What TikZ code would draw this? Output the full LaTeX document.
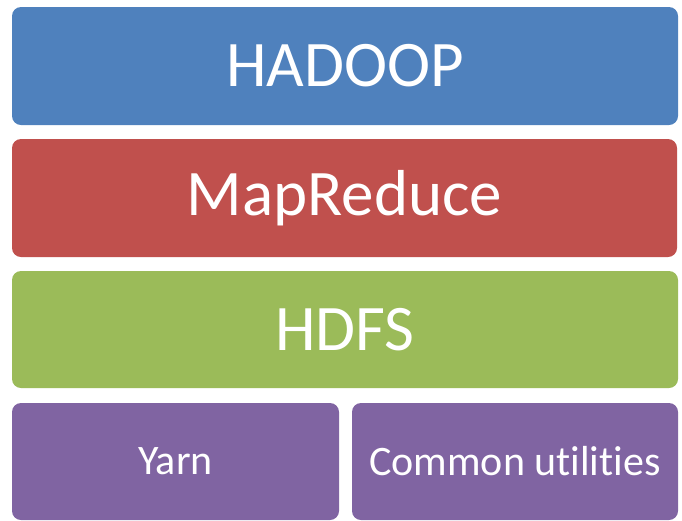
\documentclass[tikz,border=0pt]{standalone}
\usepackage{fontspec}
\setmainfont[Ligatures=NoCommon]{Carlito}
\usepackage{xcolor}
\definecolor{hblue}{HTML}{4F81BD}
\definecolor{hred}{HTML}{C0504D}
\definecolor{hgreen}{HTML}{9BBB59}
\definecolor{hpurple}{HTML}{8064A2}

\begin{document}
\begin{tikzpicture}[x=1pt, y=-1pt,
  layer/.style={rounded corners=9pt, text=white, inner sep=0pt, font=\fontsize{65}{65}\selectfont},
  small/.style={layer, font=\fontsize{42}{42}\selectfont}]
\useasboundingbox (0,0) rectangle (682,520);
\node[layer, fill=hblue, minimum width=666pt, minimum height=118pt] (hadoop) at (345,66) {HADOOP};
\node[layer, fill=hred, minimum width=665pt, minimum height=118pt] (mapreduce) at (344.5,198) {MapReduce};
\node[layer, fill=hgreen, minimum width=666pt, minimum height=117pt] (hdfs) at (345,329.5) {HDFS};
\node[small, fill=hpurple, minimum width=327pt, minimum height=117pt] (yarn) at (175.5,461.5) {Yarn};
\node[small, fill=hpurple, minimum width=326pt, minimum height=117pt] (common) at (515,461.5) {Common utilities};
\end{tikzpicture}
\end{document}
